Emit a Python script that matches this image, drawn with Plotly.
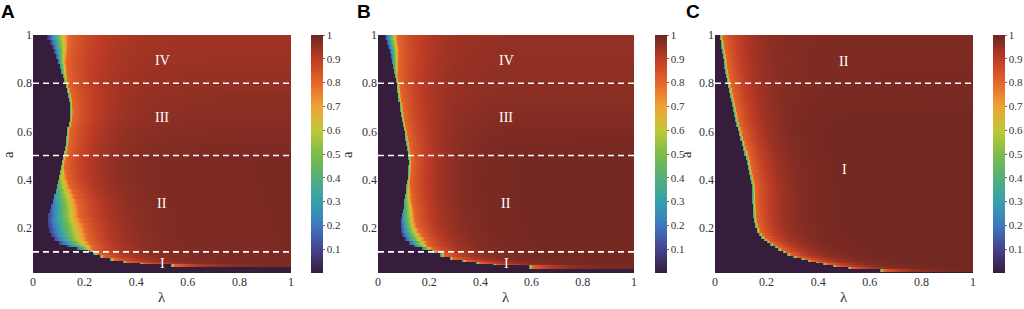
import numpy as np
import plotly.graph_objects as go

# ---------------- data ----------------
LAMBDA_TICKS = [0, 0.2, 0.4, 0.6, 0.8, 1]
LAMBDA_TICKTEXT = ["0", "0.2", "0.4", "0.6", "0.8", "1"]
A_TICKS = [0.2, 0.4, 0.6, 0.8, 1]
A_TICKTEXT = ["0.2", "0.4", "0.6", "0.8", "1"]
CB_TICKS = [0.1, 0.2, 0.3, 0.4, 0.5, 0.6, 0.7, 0.8, 0.9, 1]
CB_TICKTEXT = ["0.1", "0.2", "0.3", "0.4", "0.5", "0.6", "0.7", "0.8", "0.9", "1"]

# Panel A: row edges in a, boundary lambda of the dark region, value right at the
# boundary, width of the transition to orange, value reached at large lambda
A_EDGES = [0.0125, 0.036, 0.049, 0.056, 0.064, 0.075, 0.088, 0.10, 0.11, 0.12, 0.13, 0.145, 0.16,
           0.18, 0.20, 0.22, 0.24, 0.26, 0.28, 0.30, 0.32, 0.34, 0.36, 0.38, 0.40, 0.42, 0.44, 0.46,
           0.48, 0.50, 0.52, 0.54, 0.56, 0.58, 0.60, 0.62, 0.64, 0.66, 0.68, 0.70, 0.72, 0.74, 0.76,
           0.78, 0.80, 0.82, 0.84, 0.86, 0.88, 0.90, 0.92, 0.94, 0.96, 0.98, 1.0]
A_LB = [1.5, 0.535, 0.415, 0.35, 0.30, 0.26, 0.235, 0.215, 0.17, 0.13, 0.10, 0.08, 0.068,
        0.062, 0.058, 0.058, 0.060, 0.064, 0.070, 0.076, 0.082, 0.088, 0.092, 0.096, 0.10, 0.104,
        0.108, 0.112, 0.116, 0.120, 0.124, 0.127, 0.129, 0.130, 0.132, 0.138, 0.143, 0.144, 0.144,
        0.143, 0.141, 0.137, 0.132, 0.126, 0.121, 0.116, 0.11, 0.104, 0.097, 0.09, 0.083, 0.075,
        0.066, 0.056]
A_V0 = [0.3, 0.3, 0.3, 0.3, 0.3, 0.3, 0.25, 0.2, 0.15, 0.1, 0.08, 0.08, 0.08,
        0.08, 0.08, 0.1, 0.1, 0.12, 0.15, 0.2, 0.25, 0.3, 0.35, 0.4, 0.45, 0.4,
        0.35, 0.35, 0.35, 0.35, 0.35, 0.35, 0.35, 0.35, 0.35, 0.35, 0.35, 0.35, 0.35,
        0.35, 0.35, 0.35, 0.35, 0.35, 0.35, 0.3, 0.25, 0.2, 0.15, 0.12, 0.1, 0.08,
        0.06, 0.05]
A_W = [0.012, 0.012, 0.012, 0.012, 0.012, 0.012, 0.015, 0.02, 0.06, 0.1, 0.12, 0.13, 0.14,
       0.14, 0.14, 0.13, 0.12, 0.115, 0.105, 0.095, 0.08, 0.065, 0.05, 0.04, 0.03, 0.022,
       0.015, 0.012, 0.01, 0.01, 0.01, 0.01, 0.01, 0.01, 0.01, 0.01, 0.01, 0.01, 0.01,
       0.01, 0.01, 0.01, 0.01, 0.01, 0.012, 0.015, 0.02, 0.025, 0.03, 0.04, 0.05, 0.06,
       0.07, 0.08]
A_VR = [0.98, 0.98, 0.98, 0.98, 0.98, 0.98, 0.98, 0.98, 0.98, 0.98, 0.98, 0.98, 0.98,
        0.98, 0.98, 0.98, 0.98, 0.98, 0.98, 0.98, 0.98, 0.98, 0.98, 0.98, 0.98, 0.98,
        0.98, 0.98, 0.98, 0.978, 0.976, 0.974, 0.972, 0.970, 0.968, 0.966, 0.964, 0.962, 0.961,
        0.960, 0.958, 0.956, 0.954, 0.952, 0.950, 0.948, 0.946, 0.944, 0.942, 0.941, 0.940, 0.939,
        0.938, 0.937]

# Panel B
B_EDGES = [0.0125, 0.028, 0.044, 0.05, 0.058, 0.068, 0.08, 0.095, 0.11, 0.12, 0.13, 0.145, 0.16,
           0.18, 0.20, 0.22, 0.24, 0.26, 0.28, 0.30, 0.32, 0.34, 0.36, 0.38, 0.40, 0.42, 0.44, 0.46,
           0.48, 0.50, 0.52, 0.54, 0.56, 0.58, 0.60, 0.62, 0.64, 0.66, 0.68, 0.70, 0.72, 0.74, 0.76,
           0.78, 0.80, 0.82, 0.84, 0.86, 0.88, 0.90, 0.92, 0.94, 0.96, 0.98, 1.0]
B_LB = [1.5, 0.59, 0.45, 0.385, 0.33, 0.28, 0.245, 0.21, 0.17, 0.14, 0.12, 0.105, 0.095,
        0.09, 0.09, 0.09, 0.092, 0.096, 0.10, 0.103, 0.105, 0.108, 0.110, 0.113, 0.116, 0.118,
        0.119, 0.120, 0.119, 0.117, 0.114, 0.111, 0.107, 0.104, 0.100, 0.097, 0.093, 0.090, 0.087,
        0.084, 0.081, 0.078, 0.076, 0.074, 0.071, 0.068, 0.064, 0.06, 0.056, 0.052, 0.047, 0.041,
        0.034, 0.027]
B_V0 = [0.3, 0.3, 0.3, 0.3, 0.3, 0.3, 0.3, 0.2, 0.15, 0.12, 0.1, 0.1, 0.1,
        0.1, 0.12, 0.15, 0.2, 0.25, 0.3, 0.35, 0.4, 0.4, 0.35, 0.35, 0.35, 0.35,
        0.35, 0.35, 0.35, 0.35, 0.35, 0.35, 0.35, 0.35, 0.35, 0.35, 0.35, 0.35, 0.35,
        0.35, 0.35, 0.35, 0.35, 0.35, 0.35, 0.35, 0.3, 0.25, 0.2, 0.15, 0.12, 0.1,
        0.08, 0.06]
B_W = [0.012, 0.012, 0.012, 0.012, 0.012, 0.012, 0.012, 0.02, 0.04, 0.055, 0.07, 0.075, 0.075,
       0.07, 0.06, 0.055, 0.05, 0.045, 0.037, 0.03, 0.025, 0.02, 0.015, 0.012, 0.01, 0.01,
       0.01, 0.01, 0.01, 0.01, 0.01, 0.01, 0.01, 0.01, 0.01, 0.01, 0.01, 0.01, 0.01,
       0.01, 0.01, 0.01, 0.01, 0.01, 0.01, 0.01, 0.015, 0.02, 0.025, 0.03, 0.035, 0.04,
       0.045, 0.05]
B_VR = [0.988, 0.988, 0.988, 0.988, 0.988, 0.988, 0.988, 0.988, 0.988, 0.988, 0.988, 0.988, 0.988,
        0.988, 0.988, 0.988, 0.988, 0.988, 0.988, 0.988, 0.988, 0.988, 0.988, 0.988, 0.988, 0.988,
        0.988, 0.988, 0.987, 0.986, 0.984, 0.982, 0.980, 0.978, 0.976, 0.974, 0.972, 0.970, 0.968,
        0.966, 0.964, 0.962, 0.961, 0.960, 0.959, 0.958, 0.957, 0.956, 0.955, 0.954, 0.953, 0.952,
        0.951, 0.950]

# Panel C (sharp boundary everywhere)
C_EDGES = [0.0125, 0.018, 0.028, 0.038, 0.046, 0.053, 0.06, 0.067, 0.075, 0.085, 0.095, 0.105,
           0.115, 0.125, 0.135, 0.145, 0.155, 0.165, 0.18, 0.20, 0.22, 0.24, 0.26, 0.28, 0.30,
           0.32, 0.34, 0.36, 0.38, 0.40, 0.42, 0.44, 0.46, 0.48, 0.50, 0.52, 0.54, 0.56, 0.58,
           0.60, 0.62, 0.64, 0.66, 0.68, 0.70, 0.72, 0.74, 0.76, 0.78, 0.80, 0.82, 0.84, 0.86,
           0.88, 0.90, 0.92, 0.94, 0.96, 0.98, 1.0]
C_LB = [1.5, 0.64, 0.516, 0.457, 0.42, 0.39, 0.36, 0.335, 0.305, 0.28, 0.262, 0.245,
        0.232, 0.215, 0.2, 0.19, 0.18, 0.171, 0.162, 0.155, 0.15, 0.148, 0.147, 0.146,
        0.145, 0.145, 0.144, 0.143, 0.14, 0.136, 0.131, 0.127, 0.124, 0.12, 0.115, 0.11,
        0.104, 0.098, 0.093, 0.088, 0.083, 0.078, 0.074, 0.070, 0.066, 0.062, 0.058, 0.054,
        0.05, 0.046, 0.043, 0.04, 0.037, 0.034, 0.031, 0.028, 0.025, 0.022, 0.018]
C_V0 = 0.3
C_W = 0.012
C_VR = [0.99, 0.99, 0.99, 0.99, 0.99, 0.99, 0.99, 0.99, 0.99, 0.99, 0.99, 0.99,
        0.99, 0.99, 0.99, 0.99, 0.99, 0.99, 0.99, 0.99, 0.99, 0.99, 0.99, 0.99,
        0.99, 0.99, 0.99, 0.99, 0.99, 0.99, 0.99, 0.99, 0.99, 0.99, 0.99, 0.99,
        0.99, 0.99, 0.99, 0.99, 0.989, 0.988, 0.987, 0.986, 0.985, 0.984, 0.983, 0.982,
        0.981, 0.980, 0.980, 0.979, 0.979, 0.978, 0.978, 0.978, 0.977, 0.977, 0.977]

DASHED_A = [0.8, 0.5, 0.1]
DASHED_B = [0.8, 0.5, 0.1]
DASHED_C = [0.8]
REGIONS_A = [("IV", 0.893), ("III", 0.657), ("II", 0.3), ("I", 0.05)]
REGIONS_B = [("IV", 0.893), ("III", 0.657), ("II", 0.3), ("I", 0.05)]
REGIONS_C = [("II", 0.89), ("I", 0.44)]

# ---------------- styling ----------------
COLORSCALE = [
    [0.0, "#361d3b"], [0.1, "#47428e"], [0.2, "#3f78c0"], [0.3, "#35a1ad"],
    [0.4, "#55ae7a"], [0.5, "#7dbd48"], [0.6, "#c0c836"], [0.7, "#f0a136"],
    [0.8, "#e5662b"], [0.9, "#bd3b25"], [1.0, "#6b2622"],
]
SERIF = "Liberation Serif, Times New Roman, serif"
W, H = 1024, 309
PANELS = [
    dict(x0=33, x1=291, cb=311, letter="A", lx=8, ax=8),
    dict(x0=378, x1=634, cb=655, letter="B", lx=364, ax=347),
    dict(x0=715, x1=973, cb=993, letter="C", lx=693, ax=686),
]
DECAY = [0.10, 0.09, 0.08]

LAM_EDGES = np.linspace(0, 1, 501)
LAM = (LAM_EDGES[:-1] + LAM_EDGES[1:]) / 2


def px_x(v):
    return v / W


def px_y(v):
    return (H - v) / H


def build_z(lb, v0, w, vr, s):
    n = len(lb)
    v0 = v0 if isinstance(v0, list) else [v0] * n
    w = w if isinstance(w, list) else [w] * n
    z = []
    for i in range(n):
        ramp = v0[i] + (0.8 - v0[i]) * (LAM - lb[i]) / w[i]
        tail = vr[i] - (vr[i] - 0.8) * np.exp(-np.clip(LAM - lb[i] - w[i], 0, None) / s)
        row = np.where(LAM < lb[i], 0.0, np.where(LAM < lb[i] + w[i], ramp, tail))
        z.append(row)
    return np.array(z)


datasets = [
    (A_EDGES, build_z(A_LB, A_V0, A_W, A_VR, DECAY[0]), DASHED_A, REGIONS_A),
    (B_EDGES, build_z(B_LB, B_V0, B_W, B_VR, DECAY[1]), DASHED_B, REGIONS_B),
    (C_EDGES, build_z(C_LB, C_V0, C_W, C_VR, DECAY[2]), DASHED_C, REGIONS_C),
]

fig = go.Figure()
shapes, annotations = [], []
layout = dict(
    width=W, height=H, margin=dict(l=0, r=0, t=0, b=0, autoexpand=False),
    paper_bgcolor="white", plot_bgcolor="white", showlegend=False,
)
ydom = [px_y(273), px_y(35)]
ymid = (ydom[0] + ydom[1]) / 2

for k, (panel, (edges, z, dashed, regions)) in enumerate(zip(PANELS, datasets)):
    sfx = "" if k == 0 else str(k + 1)
    xa, ya = "x" + sfx, "y" + sfx
    fig.add_trace(go.Heatmap(
        x=LAM_EDGES, y=edges, z=z, zmin=0, zmax=1, colorscale=COLORSCALE,
        xaxis=xa, yaxis=ya, hoverinfo="skip",
        colorbar=dict(
            x=px_x(panel["cb"]), xanchor="left", y=ymid, yanchor="middle",
            len=273 - 35, lenmode="pixels", thickness=12, thicknessmode="pixels",
            xpad=0, ypad=0, outlinewidth=0,
            tickvals=CB_TICKS, ticktext=CB_TICKTEXT, ticks="outside", ticklen=2,
            tickcolor="#666", tickfont=dict(family=SERIF, size=11, color="#333"),
        ),
    ))
    layout["xaxis" + sfx] = dict(
        domain=[px_x(panel["x0"]), px_x(panel["x1"])], anchor=ya, range=[0, 1], automargin=False,
        tickvals=LAMBDA_TICKS, ticktext=LAMBDA_TICKTEXT, showgrid=False, zeroline=False,
        showline=False, ticks="", tickfont=dict(family=SERIF, size=12, color="#333"),
    )
    layout["yaxis" + sfx] = dict(
        domain=ydom, anchor=xa, range=[A_EDGES[0], 1], automargin=False,
        tickvals=A_TICKS, ticktext=A_TICKTEXT, showgrid=False, zeroline=False,
        showline=False, ticks="", tickfont=dict(family=SERIF, size=12, color="#333"),
    )
    for yv in dashed:
        shapes.append(dict(type="line", xref=xa, yref=ya, x0=0, x1=1, y0=yv, y1=yv,
                           line=dict(color="white", width=1.6, dash="6px,4px")))
    for txt, yv in regions:
        annotations.append(dict(text=txt, xref=xa, yref=ya, x=0.5, y=yv, showarrow=False,
                                font=dict(family=SERIF, size=14, color="white")))
    annotations.append(dict(text="<b>" + panel["letter"] + "</b>", xref="paper", yref="paper",
                            x=px_x(panel["lx"]), y=px_y(12), xanchor="center", yanchor="middle",
                            showarrow=False,
                            font=dict(family="Liberation Sans, Arial, sans-serif", size=19, color="black")))
    annotations.append(dict(text="λ", xref="paper", yref="paper",
                            x=px_x((panel["x0"] + panel["x1"]) / 2), y=px_y(297),
                            xanchor="center", yanchor="middle", showarrow=False,
                            font=dict(family=SERIF, size=15, color="#333")))
    annotations.append(dict(text="a", xref="paper", yref="paper",
                            x=px_x(panel["ax"]), y=px_y(155), textangle=-90,
                            xanchor="center", yanchor="middle", showarrow=False,
                            font=dict(family=SERIF, size=15, color="#333")))

layout["shapes"] = shapes
layout["annotations"] = annotations
fig.update_layout(**layout)
fig.write_html("out.html", config={"displayModeBar": False},
               post_script="document.body.style.margin='0px';document.body.style.padding='0px';")
